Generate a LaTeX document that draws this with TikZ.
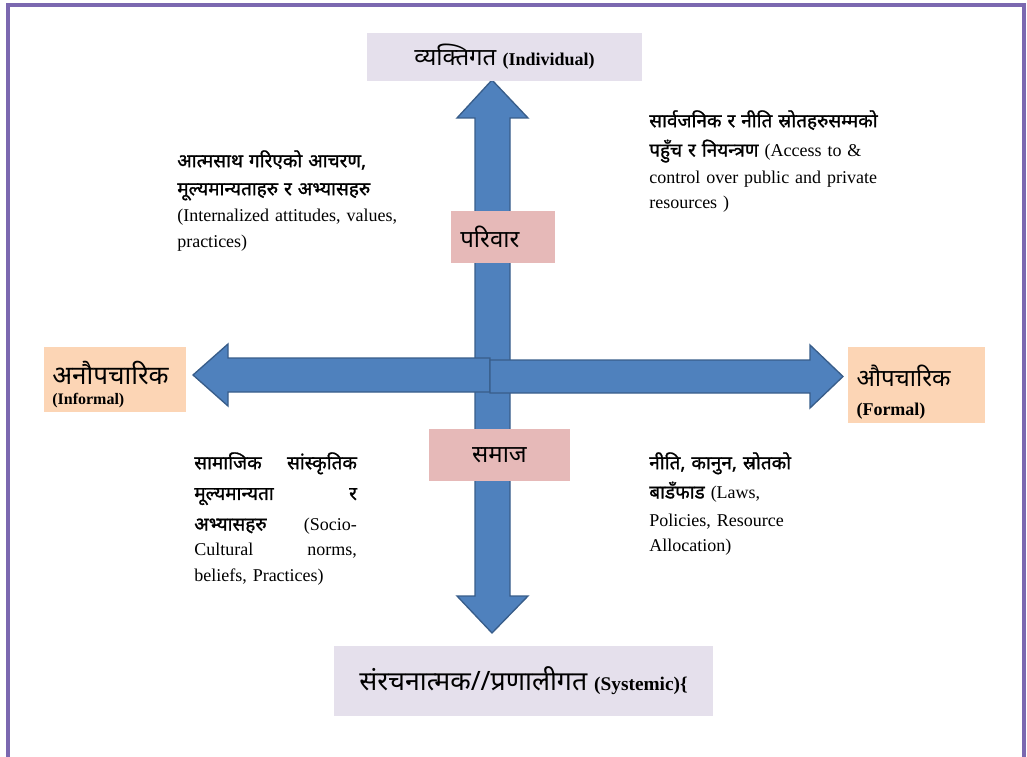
\documentclass[tikz,border=0pt]{standalone}
\usepackage{fontspec}
\setmainfont{Liberation Serif}
\newfontfamily\deva[Script=Devanagari]{Noto Sans}
\newfontfamily\devab[Script=Devanagari, FakeBold=1.2]{Noto Sans}
\definecolor{lavender}{HTML}{E5E0EC}
\definecolor{rosy}{HTML}{E6B9B8}
\definecolor{peach}{HTML}{FCD5B5}
\definecolor{arrowblue}{HTML}{4F81BD}
\definecolor{arrowedge}{HTML}{385D8A}
\definecolor{framepurple}{HTML}{7B68B0}
\newcommand{\dv}[1]{{\deva #1}}
\newcommand{\dvb}[1]{{\fontsize{14.2}{19}\devab #1}}
\tikzset{
  labelbox/.style = {shape=rectangle, fill=lavender, inner sep=0pt,
                     align=center},
  groupbox/.style = {shape=rectangle, fill=rosy, inner sep=0pt,
                     minimum height=39pt},
  sidebox/.style = {shape=rectangle, fill=peach, inner sep=0pt},
  note/.style = {anchor=north west, align=left, inner sep=0pt,
                 font=\fontsize{13.5}{19}\selectfont},
  blockarrow/.style = {fill=arrowblue, draw=arrowedge, line width=1pt}
}
\begin{document}
\begin{tikzpicture}[x=0.75pt, y=-0.75pt]
    \useasboundingbox (0,0) rectangle (1027,756);
    \draw [framepurple, line width=2.4pt] (8,760) |- (1024,5) -- (1024,760);

    % arrows
    \filldraw [blockarrow] (492,80) -- (528,118) -- (510,118) -- (510,596) -- (528,596)
        -- (492,633) -- (457,596) -- (475,596) -- (475,118) -- (457,118) -- cycle;
    \filldraw [blockarrow] (193,375) -- (228,344) -- (228,358) -- (490,358) -- (490,392)
        -- (228,392) -- (228,406) -- cycle;
    \filldraw [blockarrow] (843,376.5) -- (810,345) -- (810,360) -- (490,360) -- (490,393)
        -- (810,393) -- (810,408) -- cycle;

    \node (indiv) [labelbox, minimum width=206pt, minimum height=36pt] at (504.5,57)
        {\fontsize{18}{22}\selectfont\dv{व्यक्तिगत} \fontsize{13.5}{16}\selectfont\textbf{(Individual)}};
    \node (system) [labelbox, minimum width=284pt, minimum height=52pt] at (523.5,681)
        {\fontsize{20}{24}\selectfont\dv{संरचनात्मक//प्रणालीगत} \fontsize{14.5}{16}\selectfont\textbf{(Systemic)\{}};
    \node (family) [groupbox, minimum width=78pt, text width=64pt, align=left] at (503,237)
        {\fontsize{18}{22}\selectfont\dv{परिवार}};
    \node (society) [groupbox, minimum width=106pt, align=center] at (499.5,455)
        {\fontsize{18}{22}\selectfont\raisebox{-2pt}{\dv{समाज}}};
    \node (informal) [sidebox, minimum width=106.5pt, minimum height=49pt,
        text width=94pt, align=left] at (115,379.5)
        {\fontsize{19.5}{22}\selectfont\rule{0pt}{25pt}\dv{अनौपचारिक}\\[3pt]
         \fontsize{12}{14}\selectfont\textbf{(Informal)}};
    \node (formal) [sidebox, minimum width=103pt, minimum height=57pt,
        text width=90pt, align=left] at (916.5,385)
        {\fontsize{18}{22}\selectfont\rule{0pt}{27pt}\dv{औपचारिक}\\[10pt]
         \fontsize{13.5}{16}\selectfont\textbf{(Formal)}};

    \node (access) [note, text width=185pt] at (649,110)
        {\dvb{सार्वजनिक र नीति स्रोतहरुसम्मको}\\[3pt]
         \dvb{पहुँच र नियन्त्रण} (Access to \&\\[1pt]
         control over public and private\\
         resources )};
    \node (internal) [note, text width=180pt] at (177,150)
        {\dvb{आत्मसाथ गरिएको आचरण,}\\[2pt]
         \dvb{मूल्यमान्यताहरु र अभ्यासहरु}\\[1pt]
         (Internalized attitudes, values,\\
         practices)};
    \node (norms) [note, text width=122pt] at (194,452)
        {\dvb{सामाजिक}\hfill\dvb{सांस्कृतिक}\\[4pt]
         \dvb{मूल्यमान्यता}\hfill\dvb{र}\\[4pt]
         \dvb{अभ्यासहरु}\hfill(Socio-\\
         Cultural\hfill norms,\\
         beliefs, Practices)};
    \node (laws) [note, text width=150pt] at (649,452)
        {\dvb{नीति, कानुन, स्रोतको}\\[3pt]
         \dvb{बाडँफाड} (Laws,\\[2pt]
         Policies, Resource\\
         Allocation)};
\end{tikzpicture}
\end{document}
